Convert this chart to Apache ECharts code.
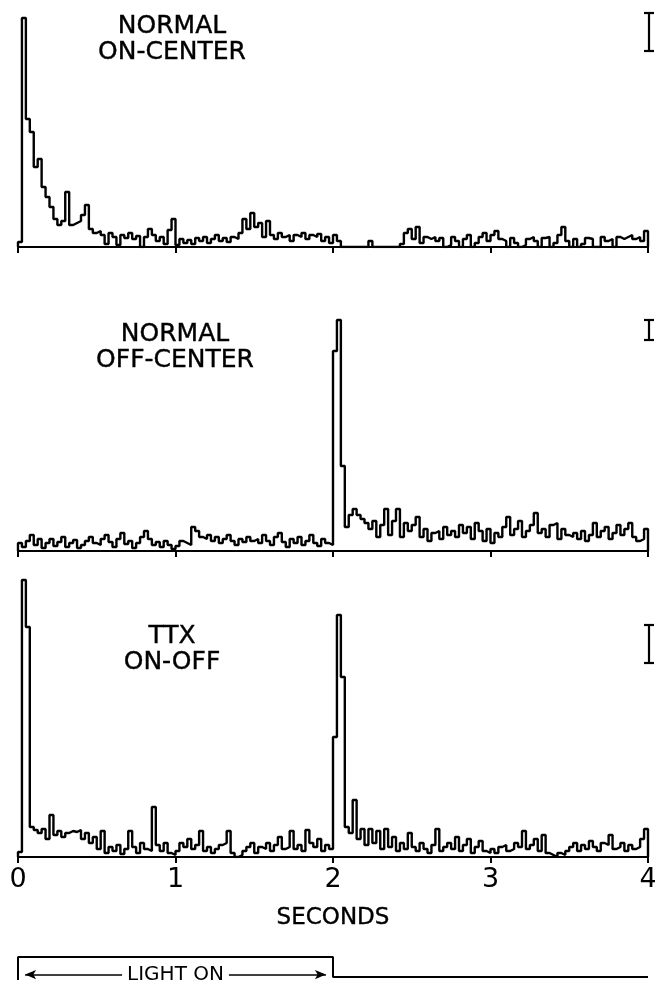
<!DOCTYPE html>
<html>
<head>
<meta charset="utf-8">
<script src="https://cdn.jsdelivr.net/npm/echarts@6/dist/echarts.min.js"></script>
<style>
  html, body { margin: 0; padding: 0; background: #fff; }
  #chart { width: 655px; height: 983px; }
</style>
</head>
<body>
<div id="chart"></div>
<script>
// bin width of the histograms, in seconds
const binWidth = 0.025;
const secondsTicks = [0, 1, 2, 3, 4];

// counts per bin (arbitrary units per panel)
const onCenter = [
  5, 229, 128, 115, 80, 88, 60, 50, 40, 28, 22, 26, 55, 22, 24, 26, 32, 42, 18, 14,
  16, 12, 3, 14, 10, 2, 12, 9, 14, 8, 11, 0, 10, 18, 12, 6, 10, 3, 17, 28,
  2, 8, 4, 7, 3, 9, 6, 10, 4, 8, 12, 6, 9, 5, 10, 8, 14, 28, 18, 34,
  20, 24, 10, 26, 12, 8, 14, 10, 12, 6, 12, 10, 14, 8, 12, 10, 13, 6, 10, 4,
  12, 6, 0, 0, 0, 0, 0, 0, 0, 6, 0, 0, 0, 0, 0, 0, 0, 3, 14, 18,
  8, 20, 4, 10, 8, 10, 6, 9, 0, 2, 10, 6, 0, 8, 12, 0, 4, 10, 14, 6,
  12, 16, 8, 6, 0, 9, 4, 0, 2, 8, 10, 6, 0, 9, 10, 0, 4, 12, 20, 6,
  0, 8, 0, 3, 9, 8, 0, 0, 10, 6, 8, 0, 10, 8, 10, 12, 8, 10, 6, 16
];
const offCenter = [
  8, 4, 10, 16, 6, 12, 3, 8, 12, 5, 9, 14, 4, 8, 11, 3, 6, 10, 14, 8,
  6, 12, 16, 9, 4, 12, 18, 7, 10, 3, 8, 14, 20, 12, 6, 9, 4, 10, 6, 2,
  5, 10, 8, 6, 24, 20, 14, 12, 16, 10, 14, 8, 12, 16, 10, 6, 12, 9, 14, 10,
  12, 8, 16, 10, 6, 14, 18, 9, 4, 12, 8, 14, 6, 10, 16, 8, 5, 12, 8, 6,
  200, 231, 85, 24, 36, 42, 36, 32, 28, 22, 30, 14, 26, 42, 16, 30, 42, 14, 28, 20,
  26, 34, 14, 22, 10, 18, 20, 12, 24, 16, 20, 14, 26, 18, 24, 12, 28, 20, 10, 22,
  8, 18, 14, 24, 34, 16, 22, 30, 14, 20, 26, 38, 18, 22, 14, 26, 28, 12, 22, 16,
  14, 18, 12, 20, 10, 16, 28, 14, 20, 24, 12, 18, 26, 16, 22, 28, 14, 10, 12, 22
];
const ttxOnOff = [
  5, 277, 230, 30, 27, 24, 28, 18, 42, 22, 26, 20, 24, 26, 25, 27, 18, 24, 14, 20,
  8, 26, 4, 10, 6, 12, 3, 8, 26, 10, 4, 14, 8, 6, 50, 12, 6, 14, 4, 2,
  6, 14, 10, 18, 8, 12, 26, 6, 10, 4, 8, 12, 14, 26, 4, 0, 2, 6, 10, 14,
  4, 10, 8, 14, 6, 12, 20, 8, 10, 26, 8, 12, 6, 27, 14, 10, 18, 6, 12, 8,
  120, 242, 180, 30, 24, 57, 18, 28, 12, 28, 14, 26, 8, 28, 10, 20, 6, 14, 8, 24,
  10, 6, 14, 8, 4, 12, 28, 6, 10, 14, 8, 20, 6, 12, 18, 4, 10, 16, 6, 4,
  8, 4, 10, 12, 6, 8, 14, 10, 26, 8, 12, 18, 6, 22, 4, 2, 0, 4, 2, 6,
  10, 14, 6, 12, 8, 16, 10, 6, 14, 12, 22, 8, 10, 14, 6, 12, 8, 10, 18, 28
];

const panelTitles = ['NORMAL\nON-CENTER', 'NORMAL\nOFF-CENTER', 'TTX\nON-OFF'];
// calibration bar of each panel: top value and length
const scaleBarTop = [234, 231, 232];
const scaleBarSize = [38, 20, 38];

// light stimulus: on from lightOn[0] to lightOn[1], off to the end
const lightOn = [0, 2];

const FONT = '"DejaVu Sans", "Liberation Sans", sans-serif';
const INK = '#000';

// layout of the three histogram panels
const layout = [
  { top: 7, height: 240, yMax: 240, titleX: 172, titleY: 13 },
  { top: 311, height: 240, yMax: 240, titleX: 175, titleY: 321 },
  { top: 572, height: 285, yMax: 285, titleX: 172, titleY: 623 }
];
const histograms = [onCenter, offCenter, ttxOnOff];

const toSteps = vals => {
  const end = secondsTicks[secondsTicks.length - 1];
  const pts = [[0, 0]];
  vals.forEach((v, i) => pts.push([+(i * binWidth).toFixed(3), v]));
  pts.push([end, vals[vals.length - 1]]);
  pts.push([end, 0]);
  return pts;
};

const grids = [];
const xAxes = [];
const yAxes = [];
const series = [];
const graphics = [];

layout.forEach((p, i) => {
  grids.push({ left: 18, right: 7, top: p.top, height: p.height, outerBoundsMode: 'none', containLabel: false });
  xAxes.push({
    gridIndex: i,
    type: 'value',
    min: secondsTicks[0],
    max: secondsTicks[secondsTicks.length - 1],
    interval: 1,
    splitLine: { show: false },
    axisLine: { lineStyle: { color: INK, width: 2 } },
    axisTick: { show: true, length: 6, lineStyle: { color: INK, width: 2 } },
    axisLabel: {
      show: i === 2,
      color: INK,
      fontFamily: FONT,
      fontSize: 27,
      margin: 9,
      showMinLabel: true,
      showMaxLabel: true
    }
  });
  yAxes.push({ gridIndex: i, type: 'value', min: 0, max: p.yMax, show: false });
  series.push({
    type: 'line',
    xAxisIndex: i,
    yAxisIndex: i,
    step: 'end',
    showSymbol: false,
    data: toSteps(histograms[i]),
    lineStyle: { color: INK, width: 2.4 },
    silent: true,
    z: 3
  });
  // calibration bar "I"
  series.push({
    type: 'custom',
    xAxisIndex: i,
    yAxisIndex: i,
    clip: false,
    data: [[secondsTicks[secondsTicks.length - 1], scaleBarTop[i], scaleBarTop[i] - scaleBarSize[i]]],
    renderItem: (params, api) => {
      const a = api.coord([api.value(0), api.value(1)]);
      const b = api.coord([api.value(0), api.value(2)]);
      const x = a[0] + 1;
      const st = { stroke: INK, lineWidth: 2.2 };
      return {
        type: 'group',
        children: [
          { type: 'line', shape: { x1: x, y1: a[1], x2: x, y2: b[1] }, style: st },
          { type: 'line', shape: { x1: x - 5, y1: a[1], x2: x + 5, y2: a[1] }, style: st },
          { type: 'line', shape: { x1: x - 5, y1: b[1], x2: x + 5, y2: b[1] }, style: st }
        ]
      };
    }
  });
  graphics.push({
    type: 'text',
    x: p.titleX,
    y: p.titleY,
    style: {
      text: panelTitles[i],
      font: '25px ' + FONT,
      lineHeight: 26,
      fill: INK,
      stroke: INK,
      lineWidth: 0.4,
      textAlign: 'center',
      textVerticalAlign: 'top'
    }
  });
});

// stimulus trace
grids.push({ left: 18, right: 7, top: 957, height: 23, outerBoundsMode: 'none', containLabel: false });
xAxes.push({ gridIndex: 3, type: 'value', min: 0, max: 4, show: false });
yAxes.push({ gridIndex: 3, type: 'value', min: -0.15, max: 1, show: false });
series.push({
  type: 'line',
  xAxisIndex: 3,
  yAxisIndex: 3,
  showSymbol: false,
  silent: true,
  data: [[lightOn[0], -0.15], [lightOn[0], 1], [lightOn[1], 1], [lightOn[1], 0], [4, 0]],
  lineStyle: { color: INK, width: 2 },
  markLine: {
    silent: true,
    symbol: ['arrow', 'arrow'],
    symbolSize: [7, 11],
    lineStyle: { color: INK, width: 1.5, type: 'solid' },
    label: {
      show: true,
      position: 'middle',
      distance: 0,
      formatter: 'LIGHT ON',
      color: INK,
      fontFamily: FONT,
      fontSize: 20,
      backgroundColor: '#fff',
      padding: [0, 5],
      verticalAlign: 'middle'
    },
    data: [[{ coord: [0.045, 0.12] }, { coord: [1.955, 0.12] }]]
  }
});

graphics.push({
  type: 'text',
  x: 333,
  y: 907,
  style: {
    text: 'SECONDS',
    font: '23px ' + FONT,
    fill: INK,
    stroke: INK,
    lineWidth: 0.4,
    textAlign: 'center',
    textVerticalAlign: 'top'
  }
});

const chart = echarts.init(document.getElementById('chart'), null, { renderer: 'canvas' });
chart.setOption({
  animation: false,
  backgroundColor: '#fff',
  grid: grids,
  xAxis: xAxes,
  yAxis: yAxes,
  series: series,
  graphic: graphics
});
window.addEventListener('resize', () => chart.resize());
</script>
</body>
</html>
